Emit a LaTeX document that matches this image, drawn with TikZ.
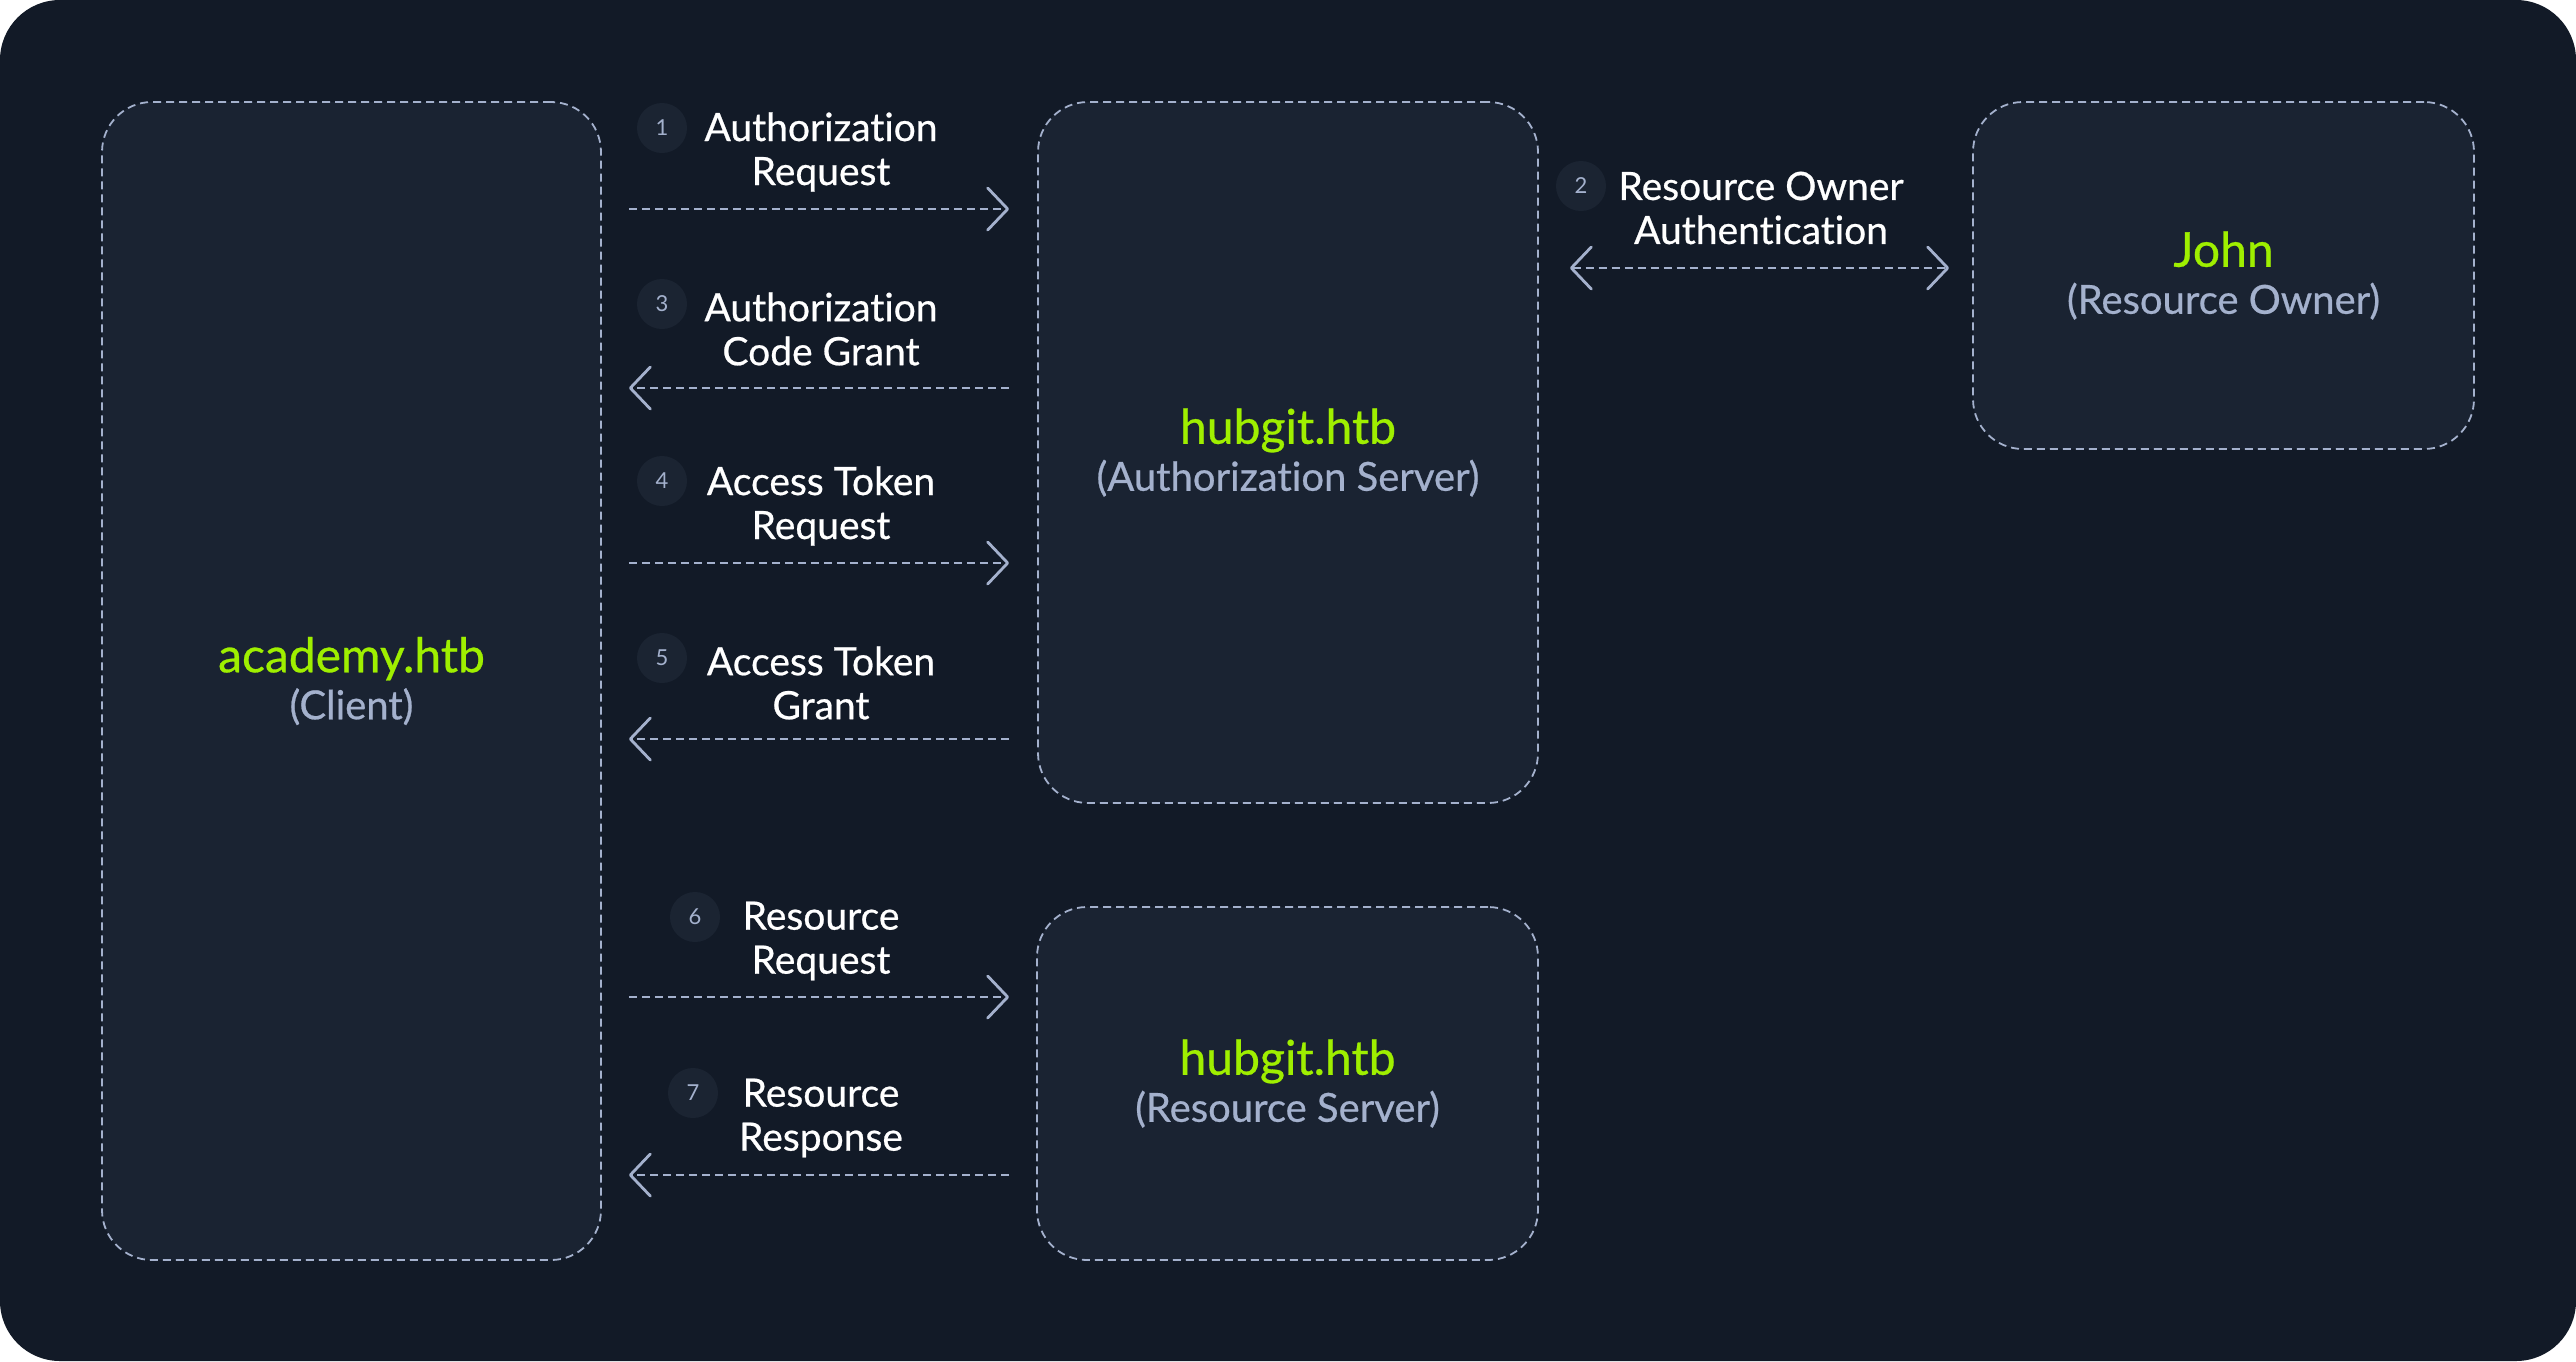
\documentclass[tikz,border=0pt]{standalone}
\usepackage{fontspec}
\setmainfont{Lato}[Ligatures=NoCommon]
\newfontfamily\medfont{Lato}[Ligatures=NoCommon, FakeBold=0.6]
\usetikzlibrary{positioning,arrows.meta}

\definecolor{bgdark}{HTML}{121A27}
\definecolor{boxfill}{HTML}{1A2332}
\definecolor{numfill}{HTML}{1B2432}
\definecolor{htbgreen}{HTML}{9FEF00}
\definecolor{htbgrey}{HTML}{A4B1CD}

\newcommand{\srvname}[1]{{\color{htbgreen}\fontsize{24}{24}\selectfont #1}}
\newcommand{\srvrole}[1]{{\color{htbgrey}#1}}

\tikzset{
  >={Straight Barb[length=10pt,width=21pt,line width=1.4pt,round]},
  party/.style={draw=htbgrey, fill=boxfill, line width=0.9pt, dash pattern=on 4pt off 2.5pt,
    rounded corners=25pt, align=center, inner sep=0pt, font=\medfont\fontsize{20}{23.5}\selectfont},
  msg/.style={text=white, align=center, font=\medfont\fontsize{19.5}{22}\selectfont},
  num/.style={circle, fill=numfill, minimum size=25pt, inner sep=0pt, text=htbgrey,
    font=\fontsize{11}{11}\selectfont},
  flow/.style={draw=htbgrey, line width=0.9pt, dash pattern=on 4pt off 2.5pt},
}

\begin{document}
\begin{tikzpicture}[x=0.5pt,y=-0.5pt]
\def\W{2576}
\def\H{1361}

\fill[white] (0,0) rectangle (\W,\H);
\fill[bgdark, rounded corners=30pt] (0,0) rectangle (\W,\H);
\useasboundingbox (0,0) rectangle (\W,\H);

\node[party, minimum width=249.5pt, minimum height=579pt] (client) at (351.5,681)
  {\srvname{academy.htb}\\\srvrole{(Client)}};
\node[party, minimum width=250pt, minimum height=350.5pt] (authsrv) at (1288,452.5)
  {\srvname{hubgit.htb}\\\srvrole{(Authorization Server)}};
\node[party, minimum width=250.5pt, minimum height=173.5pt] (owner) at (2223.5,275.5)
  {\srvname{John}\\\srvrole{(Resource Owner)}};
\node[party, minimum width=250.5pt, minimum height=176.5pt] (ressrv) at (1287.5,1083.5)
  {\srvname{hubgit.htb}\\\srvrole{(Resource Server)}};

\def\xm{821}
\def\xn{662}

\node[msg] (m1) at (\xm,152) {Authorization\\Request};
\node[num] (n1) at (\xn,128) {1};
\node[msg] (m3) at (\xm,329) {Authorization\\Code Grant};
\node[num] (n3) at (\xn,304) {3};
\node[msg] (m4) at (\xm,506) {Access Token\\Request};
\node[num] (n4) at (\xn,481) {4};
\node[msg] (m5) at (\xm,683) {Access Token\\Grant};
\node[num] (n5) at (\xn,658) {5};
\node[msg] (m6) at (\xm,941) {Resource\\Request};
\node[num] (n6) at (695,917) {6};
\node[msg] (m7) at (\xm,1118) {Resource\\Response};
\node[num] (n7) at (693,1093) {7};
\node[msg] (m2) at (1761,208) {Resource Owner\\Authentication};
\node[num] (n2) at (1581,186) {2};

\draw[flow, ->, shorten <=13.5pt, shorten >=14pt] (client.east |- 0,209) -- (authsrv.west |- 0,209);
\draw[flow, ->, shorten <=14pt, shorten >=13.5pt] (authsrv.west |- 0,388) -- (client.east |- 0,388);
\draw[flow, ->, shorten <=13.5pt, shorten >=14pt] (client.east |- 0,563) -- (authsrv.west |- 0,563);
\draw[flow, ->, shorten <=14pt, shorten >=13.5pt] (authsrv.west |- 0,739) -- (client.east |- 0,739);
\draw[flow, ->, shorten <=13.5pt, shorten >=13.5pt] (client.east |- 0,997) -- (ressrv.west |- 0,997);
\draw[flow, ->, shorten <=13.5pt, shorten >=13.5pt] (ressrv.west |- 0,1175) -- (client.east |- 0,1175);
\draw[flow, <->, shorten <=15.5pt, shorten >=11.5pt] (authsrv.east |- 0,268) -- (owner.west |- 0,268);

\end{tikzpicture}
\end{document}
